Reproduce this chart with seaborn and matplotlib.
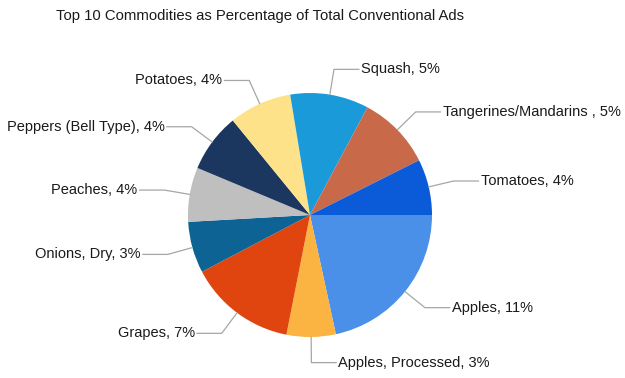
import matplotlib
matplotlib.use("Agg")
import matplotlib.pyplot as plt
import numpy as np
import seaborn as sns

# shares of total conventional ads (%)
commodities = ["Apples", "Apples, Processed", "Grapes", "Onions, Dry", "Peaches",
               "Peppers (Bell Type)", "Potatoes", "Squash", "Tangerines/Mandarins ", "Tomatoes"]
shares = [10.8, 3.25, 7.1, 3.4, 3.6, 3.9, 4.15, 5.2, 4.9, 3.7]
colors = ["#4a8fe8", "#fbb341", "#e0450f", "#0d6394", "#bfbfbf",
          "#1b365f", "#fde28a", "#1a9ad9", "#c8694a", "#0b5ad8"]

sns.set_theme(style="white")
plt.rcParams["font.family"] = ["Liberation Sans", "DejaVu Sans"]

W, H = 625, 378
fig = plt.figure(figsize=(W / 100, H / 100), dpi=100)
ax = fig.add_axes([0, 0, 1, 1])

cx, cy, r = 310, H - 215, 122
wedges, _ = ax.pie(shares, colors=sns.color_palette(colors), startangle=0,
                   counterclock=False, center=(cx, cy), radius=r,
                   wedgeprops=dict(linewidth=0))
ax.set_xlim(0, W)
ax.set_ylim(0, H)
ax.set_aspect("equal")
ax.axis("off")

for w, name, v in zip(wedges, commodities, shares):
    mid = np.deg2rad((w.theta1 + w.theta2) / 2)
    ex, ey = cx + r * np.cos(mid), cy + r * np.sin(mid)
    kx, ky = cx + 1.21 * r * np.cos(mid), cy + 1.21 * r * np.sin(mid)
    side = 1 if np.cos(mid) >= 0 else -1
    hx = kx + side * 25
    ax.plot([ex, kx, hx], [ey, ky, ky], color="#a6a6a6", lw=0.9)
    ax.text(hx + side * 2, ky, f"{name}, {v:.0f}%", ha="left" if side > 0 else "right",
            va="center", fontsize=10.5, color="#1a1a1a")

fig.text(260 / W, 1 - 16 / H, "Top 10 Commodities as Percentage of Total Conventional Ads",
         ha="center", va="center", fontsize=10.7, color="#1a1a1a")

fig.savefig("out.png", dpi=100, facecolor="white")
